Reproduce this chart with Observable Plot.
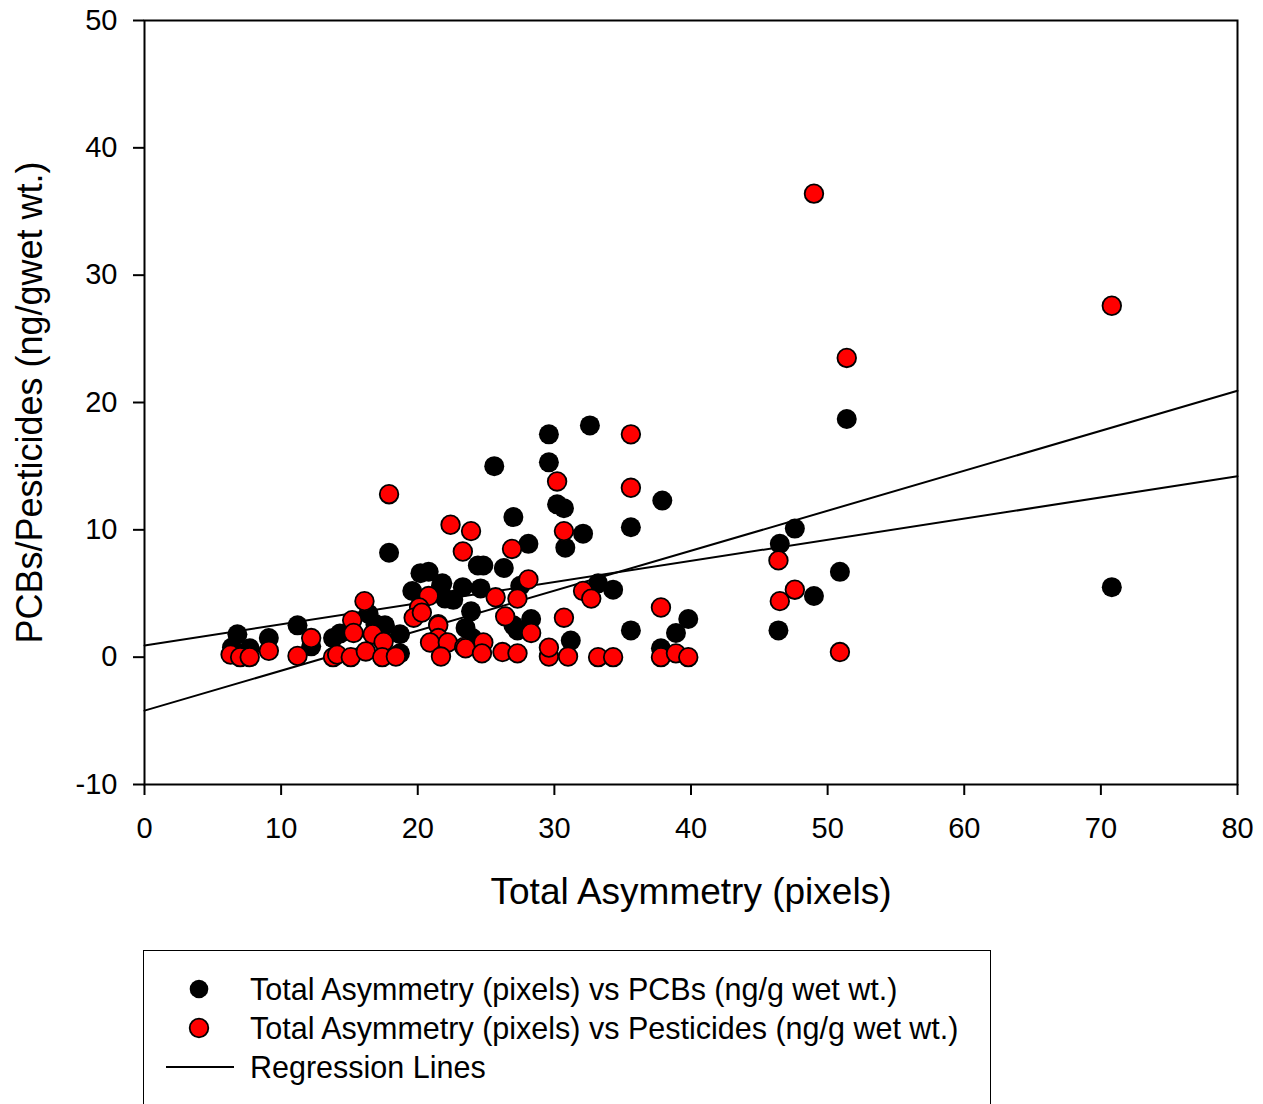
<!DOCTYPE html>
<html>
<head>
<meta charset="utf-8">
<script src="https://cdn.jsdelivr.net/npm/d3@7"></script>
<script src="https://cdn.jsdelivr.net/npm/@observablehq/plot@0.6"></script>
<style>
  html, body { margin: 0; padding: 0; background: white; overflow: hidden; }
  #wrap { position: relative; width: 1263px; height: 1104px; font-family: "Liberation Sans", Arial, sans-serif; }
  #legend { position: absolute; left: 143px; top: 950px; width: 848px; height: 170px; border: 1.5px solid black; box-sizing: border-box; background: white; }
  .row { position: absolute; left: 0; height: 36px; font-size: 30.5px; line-height: 36px; white-space: nowrap; color: black; }
  .row svg { position: absolute; left: 0; top: 0; }
  .row span { position: absolute; left: 106px; top: 0; }
</style>
</head>
<body>
<div id="wrap">
  <div id="chart"></div>
  <div id="legend"></div>
</div>
<script>
// Tick values
const xTicks = [0, 10, 20, 30, 40, 50, 60, 70, 80];
const yTicks = [-10, 0, 10, 20, 30, 40, 50];

// Total Asymmetry (pixels) vs PCBs (ng/g wet wt.)
const pcbX = [6.8, 6.4, 7.7, 9.1, 11.2, 12.2, 13.8, 14.3, 16.4, 16.9, 17.6, 18.7, 18.7, 17.9, 19.6, 20.2, 20.8, 21.8, 21.7, 23.3,
  24.6, 22.0, 24.4, 24.8, 26.3, 23.9, 23.5, 24.0, 27.0, 27.3, 27.5, 28.3, 31.2, 33.2, 34.3, 21.5, 25.6, 29.6, 29.6, 32.6,
  30.2, 30.7, 27.0, 28.1, 30.8, 32.1, 35.6, 37.9, 35.6, 39.8, 38.9, 37.8, 46.5, 47.6, 46.4, 50.9, 49.0, 51.4, 70.8, 22.6];
const pcbY = [1.8, 0.75, 0.7, 1.5, 2.5, 0.85, 1.5, 1.85, 3.4, 2.6, 2.5, 1.8, 0.3, 8.2, 5.2, 6.6, 6.7, 5.8, 5.6, 5.5,
  5.4, 4.6, 7.2, 7.2, 7.0, 3.6, 2.3, 1.5, 2.5, 2.1, 5.6, 3.0, 1.3, 5.8, 5.3, 2.6, 15.0, 17.5, 15.3, 18.2,
  12.0, 11.7, 11.0, 8.9, 8.6, 9.7, 10.2, 12.3, 2.1, 3.0, 1.9, 0.7, 8.9, 10.1, 2.1, 6.7, 4.8, 18.7, 5.5, 4.5];

// Total Asymmetry (pixels) vs Pesticides (ng/g wet wt.)
const pestX = [49.0, 70.8, 51.4, 35.6, 35.6, 30.2, 17.9, 22.4, 23.9, 30.7, 23.3, 26.9, 28.1, 46.4, 32.1, 32.7, 25.7, 27.3, 20.8, 37.8,
  47.6, 46.5, 50.9, 16.1, 15.2, 20.1, 19.7, 26.4, 30.7, 28.3, 21.5, 21.5, 12.2, 15.3, 16.7, 17.5, 20.9, 22.2, 23.4, 24.8,
  9.1, 6.3, 7.0, 7.7, 11.2, 13.8, 14.1, 15.1, 16.2, 17.4, 18.4, 21.7, 23.5, 24.7, 26.2, 27.3, 29.6, 29.6, 31.0, 33.2,
  34.3, 37.8, 38.9, 39.8, 20.3];
const pestY = [36.4, 27.6, 23.5, 17.5, 13.3, 13.8, 12.8, 10.4, 9.9, 9.9, 8.3, 8.5, 6.1, 7.6, 5.2, 4.6, 4.7, 4.6, 4.8, 3.9,
  5.3, 4.4, 0.4, 4.4, 2.9, 3.9, 3.1, 3.2, 3.1, 1.9, 2.5, 1.5, 1.5, 1.9, 1.8, 1.2, 1.15, 1.15, 0.8, 1.15,
  0.5, 0.2, 0.0, 0.0, 0.1, 0.0, 0.2, 0.0, 0.45, 0.0, 0.05, 0.05, 0.7, 0.3, 0.4, 0.3, 0.05, 0.75, 0.05, 0.0,
  0.0, 0.0, 0.3, 0.0, 3.5];

// Regression lines (intercept, slope)
const regNames = ["PCBs", "Pesticides"];
const regIntercepts = [0.92, -4.2];
const regSlopes = [0.166, 0.314];

const pcb = pcbX.map((x, i) => ({x, y: pcbY[i]}));
const pest = pestX.map((x, i) => ({x, y: pestY[i]}));
const xDomain = [xTicks[0], xTicks[xTicks.length - 1]];
const reg = regNames.flatMap((name, i) => xDomain.map(x => ({name, x, y: regIntercepts[i] + regSlopes[i] * x})));

const fmt = d => String(d);
const chart = Plot.plot({
  width: 1263,
  height: 940,
  marginLeft: 144,
  marginRight: 26,
  marginTop: 20,
  marginBottom: 156,
  style: {fontFamily: "'Liberation Sans', Arial, sans-serif", fontSize: "29px", color: "black", background: "white", overflow: "visible"},
  x: {domain: xDomain},
  y: {domain: [yTicks[0], yTicks[yTicks.length - 1]]},
  marks: [
    Plot.line(reg, {x: "x", y: "y", z: "name", stroke: "black", strokeWidth: 2}),
    Plot.dot(pcb, {x: "x", y: "y", r: 10, fill: "black", stroke: "none"}),
    Plot.dot(pest, {x: "x", y: "y", r: 9.3, fill: "#ff0000", stroke: "black", strokeWidth: 1.8}),
    Plot.frame({stroke: "black", strokeWidth: 2}),
    Plot.axisX({ticks: xTicks, tickSize: 11, tickPadding: 22, tickFormat: fmt, label: null, fontSize: 29, strokeWidth: 2}),
    Plot.axisY({ticks: yTicks, tickSize: 11, tickPadding: 16, tickFormat: fmt, label: null, fontSize: 29, strokeWidth: 2}),
    Plot.text(["Total Asymmetry (pixels)"], {frameAnchor: "bottom", dy: 108, fontSize: 37, fill: "black", textAnchor: "middle", lineAnchor: "middle"}),
    Plot.text(["PCBs/Pesticides (ng/gwet wt.)"], {frameAnchor: "left", dx: -114, rotate: -90, fontSize: 36, fill: "black", textAnchor: "middle", lineAnchor: "middle"})
  ]
});
document.getElementById("chart").appendChild(chart);

// Legend
const legendItems = [
  {label: "Total Asymmetry (pixels) vs PCBs (ng/g wet wt.)", kind: "dot", fill: "black", stroke: "none"},
  {label: "Total Asymmetry (pixels) vs Pesticides (ng/g wet wt.)", kind: "dot", fill: "#ff0000", stroke: "black"},
  {label: "Regression Lines", kind: "line"}
];
const legend = document.getElementById("legend");
legendItems.forEach((it, i) => {
  const row = document.createElement("div");
  row.className = "row";
  row.style.top = (39 * (i + 1) - 19) + "px";
  row.style.width = "840px";
  let icon;
  if (it.kind === "dot") {
    icon = `<svg width="100" height="36"><circle cx="55" cy="18" r="9.3" fill="${it.fill}" stroke="${it.stroke}" stroke-width="1.8"/></svg>`;
  } else {
    icon = `<svg width="100" height="36"><line x1="22" x2="90" y1="18" y2="18" stroke="black" stroke-width="2"/></svg>`;
  }
  row.innerHTML = icon + `<span>${it.label}</span>`;
  legend.appendChild(row);
});
</script>
</body>
</html>
